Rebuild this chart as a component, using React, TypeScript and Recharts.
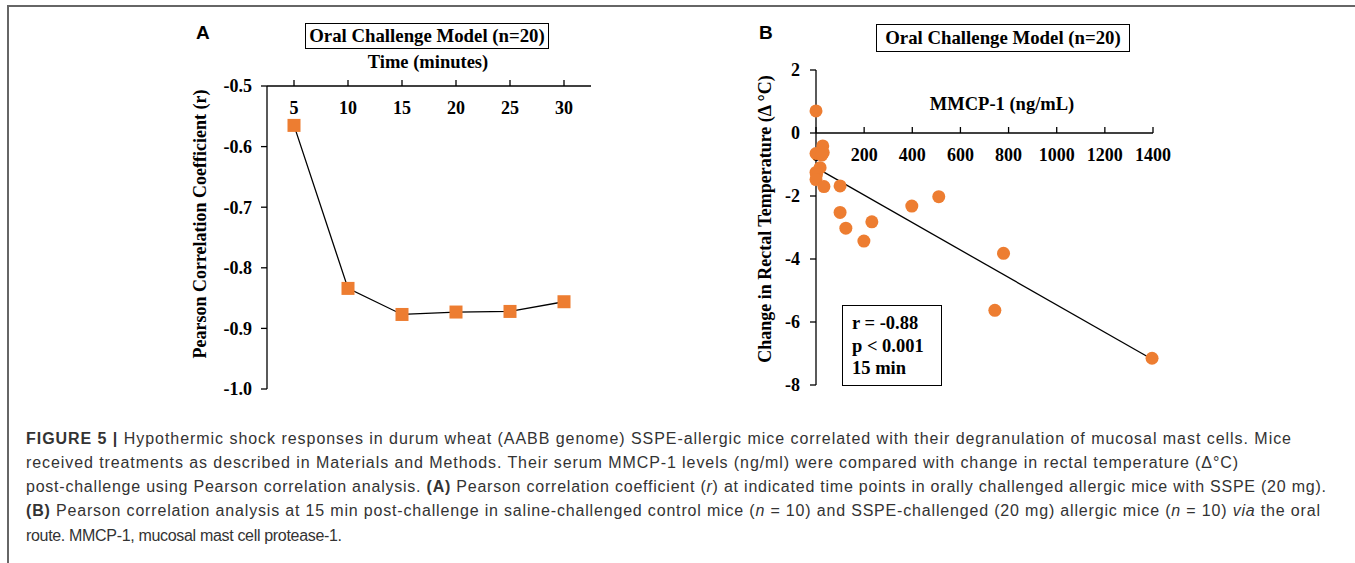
import React from 'react';
import {
  LineChart,
  Line,
  ComposedChart,
  Scatter,
  XAxis,
  YAxis,
  ReferenceLine,
} from 'recharts';

// panel A: correlation coefficient over time
const timeLabels = ['5', '10', '15', '20', '25', '30'];
const pearsonR = [-0.565, -0.834, -0.877, -0.873, -0.872, -0.856];
const yTicksA = [-1.0, -0.9, -0.8, -0.7, -0.6, -0.5];

// panel B: MMCP-1 vs change in rectal temperature
const mmcpLevels = [0, 28, 30, 0, 17, 0, 2, 0, 33, 100, 100, 124, 199, 232, 398, 510, 779, 743, 1396, 24];
const tempChange = [0.7, -0.41, -0.62, -0.65, -1.1, -1.25, -1.32, -1.48, -1.7, -1.68, -2.52, -3.02, -3.43, -2.82, -2.32, -2.02, -3.82, -5.63, -7.15, -0.7];
const xTicksB = [0, 200, 400, 600, 800, 1000, 1200, 1400];
const yTicksB = [-8, -6, -4, -2, 0, 2];
const trendX = [0, 1400];
const trendY = [-1.1, -7.2];

const ORANGE = '#ED7D31';
const SERIF = '"Liberation Serif", "Times New Roman", serif';
const SANS = '"Liberation Sans", Arial, sans-serif';

const dataA = timeLabels.map((t, i) => ({ time: t, r: pearsonR[i] }));
const dataB = mmcpLevels.map((x, i) => ({ x, y: tempChange[i] }));

const axisFont = { fill: '#000', fontFamily: SERIF, fontSize: 18, fontWeight: 'bold' };

// top axis, labels sit below the axis line (inside the plot)
const TopTick = (props: any) => {
  const { x, y, payload } = props;
  return (
    <text x={x} y={y + 30} textAnchor="middle" dominantBaseline="central" {...axisFont}>
      {payload.value}
    </text>
  );
};

const Square = (props: any) => {
  const { cx, cy } = props;
  if (cx == null || cy == null) return null;
  return <rect x={cx - 6.5} y={cy - 6.5} width={13} height={13} fill={ORANGE} />;
};

const Dot = (props: any) => {
  const { cx, cy } = props;
  return <circle cx={cx} cy={cy} r={6.5} fill={ORANGE} />;
};

const abs = (left: number, top: number): React.CSSProperties => ({ position: 'absolute', left, top });

const centered = (cx: number, cy: number, extra: React.CSSProperties = {}): React.CSSProperties => ({
  position: 'absolute',
  left: cx,
  top: cy,
  transform: 'translate(-50%, -50%)',
  whiteSpace: 'nowrap',
  fontFamily: SERIF,
  fontWeight: 'bold',
  fontSize: 18.5,
  ...extra,
});

const titleBox = (left: number, top: number, width: number, height: number): React.CSSProperties => ({
  ...abs(left, top),
  width,
  height,
  border: '1.5px solid #000',
  boxSizing: 'border-box',
  display: 'flex',
  alignItems: 'center',
  justifyContent: 'center',
  fontFamily: SERIF,
  fontWeight: 'bold',
  fontSize: 18.8,
  whiteSpace: 'nowrap',
});

// caption lines, each stretched to the width it has in the figure
const captionWidths = [1265, 1212, 1300, 1294, 316];

const Caption = () => {
  const B = (s: string) => <tspan fontWeight="bold">{s}</tspan>;
  const I = (s: string) => <tspan fontStyle="italic">{s}</tspan>;
  const lines = [
    <>{B('FIGURE 5 |')} Hypothermic shock responses in durum wheat (AABB genome) SSPE-allergic mice correlated with their degranulation of mucosal mast cells. Mice</>,
    <>received treatments as described in Materials and Methods. Their serum MMCP-1 levels (ng/ml) were compared with change in rectal temperature (Δ°C)</>,
    <>post-challenge using Pearson correlation analysis. {B('(A)')} Pearson correlation coefficient ({I('r')}) at indicated time points in orally challenged allergic mice with SSPE (20 mg).</>,
    <>{B('(B)')} Pearson correlation analysis at 15 min post-challenge in saline-challenged control mice ({I('n')} = 10) and SSPE-challenged (20 mg) allergic mice ({I('n')} = 10) {I('via')} the oral</>,
    <>route. MMCP-1, mucosal mast cell protease-1.</>,
  ];
  return (
    <svg width={1355} height={140} style={abs(0, 420)}>
      {lines.map((l, i) => (
        <text
          key={i}
          x={26}
          y={23.5 + i * 24.3}
          textLength={captionWidths[i]}
          lengthAdjust="spacing"
          fontFamily={SANS}
          fontSize={16}
          fill="#333"
        >
          {l}
        </text>
      ))}
    </svg>
  );
};

export default function App() {
  return (
    <div style={{ position: 'absolute', left: 0, top: 0, width: 1355, height: 563, background: '#fff', overflow: 'hidden' }}>
      <div style={{ position: 'absolute', left: 7, top: 5, right: -10, bottom: -10, borderLeft: '2px solid #666', borderTop: '2px solid #666' }} />

      {/* Panel A */}
      <div style={abs(0, 0)}>
        <LineChart width={620} height={410} data={dataA} margin={{ top: 56, right: 29, bottom: 21, left: 187 }}>
          <XAxis
            dataKey="time"
            orientation="top"
            scale="band"
            height={30}
            axisLine={{ stroke: '#000', strokeWidth: 1.3 }}
            tickLine={{ stroke: '#000', strokeWidth: 1.3 }}
            tickSize={6}
            tickMargin={2}
            tick={<TopTick />}
            interval={0}
          />
          <YAxis
            domain={[-1, -0.5]}
            ticks={yTicksA}
            width={80}
            axisLine={{ stroke: '#000', strokeWidth: 1.3 }}
            tickLine={{ stroke: '#000', strokeWidth: 1.3 }}
            tickSize={6}
            tickMargin={9}
            tick={axisFont}
            tickFormatter={(v: number) => v.toFixed(1)}
            interval={0}
          />
          <Line type="linear" dataKey="r" stroke="#000" strokeWidth={1.3} dot={<Square />} isAnimationActive={false} />
        </LineChart>
      </div>
      <div style={{ ...abs(196, 22), fontFamily: SANS, fontWeight: 'bold', fontSize: 19 }}>A</div>
      <div style={titleBox(305, 23, 244, 26)}>Oral Challenge Model (n=20)</div>
      <div style={centered(428, 62)}>Time (minutes)</div>
      <div style={centered(200, 224, { fontSize: 18, transform: 'translate(-50%, -50%) rotate(-90deg)' })}>Pearson Correlation Coefficient (r)</div>

      {/* Panel B: x axis crossing at y = 0 */}
      <div style={abs(700, 0)}>
        <LineChart width={480} height={200} data={dataB} margin={{ top: 103, right: 27, bottom: 0, left: 116 }}>
          <XAxis
            type="number"
            dataKey="x"
            orientation="top"
            domain={[0, 1400]}
            ticks={xTicksB}
            height={30}
            axisLine={{ stroke: '#000', strokeWidth: 1.3 }}
            tickLine={{ stroke: '#000', strokeWidth: 1.3 }}
            tickSize={6}
            tickMargin={2}
            tick={<TopTick />}
            interval={0}
          />
          <YAxis hide domain={[-8, 2]} />
          <Line dataKey="y" stroke="none" dot={false} activeDot={false} isAnimationActive={false} />
        </LineChart>
      </div>
      <div style={abs(700, 0)}>
        <ComposedChart width={480} height={410} data={dataB} margin={{ top: 70, right: 27, bottom: 25, left: 76 }}>
          <XAxis type="number" dataKey="x" domain={[0, 1400]} hide />
          <YAxis
            type="number"
            domain={[-8, 2]}
            ticks={yTicksB}
            width={40}
            axisLine={{ stroke: '#000', strokeWidth: 1.3 }}
            tickLine={{ stroke: '#000', strokeWidth: 1.3 }}
            tickSize={6}
            tickMargin={10}
            tick={axisFont}
            interval={0}
          />
          <ReferenceLine
            segment={[{ x: trendX[0], y: trendY[0] }, { x: trendX[1], y: trendY[1] }]}
            stroke="#000"
            strokeWidth={1.3}
            ifOverflow="visible"
          />
          <Scatter dataKey="y" shape={<Dot />} isAnimationActive={false} />
        </ComposedChart>
      </div>
      <div style={{ ...abs(759, 22), fontFamily: SANS, fontWeight: 'bold', fontSize: 19 }}>B</div>
      <div style={titleBox(876, 24, 254, 28)}>Oral Challenge Model (n=20)</div>
      <div style={centered(1002, 104)}>MMCP-1 (ng/mL)</div>
      <div style={centered(765, 219, { fontSize: 18, transform: 'translate(-50%, -50%) rotate(-90deg)' })}>Change in Rectal Temperature (Δ °C)</div>
      <div
        style={{
          ...abs(842, 305),
          width: 100,
          height: 81,
          border: '1.5px solid #000',
          boxSizing: 'border-box',
          padding: '6px 0 0 9px',
          fontFamily: SERIF,
          fontWeight: 'bold',
          fontSize: 18.5,
          lineHeight: '22.5px',
          whiteSpace: 'nowrap',
        }}
      >
        <div>r = -0.88</div>
        <div>p &lt; 0.001</div>
        <div>15 min</div>
      </div>

      <Caption />
    </div>
  );
}
